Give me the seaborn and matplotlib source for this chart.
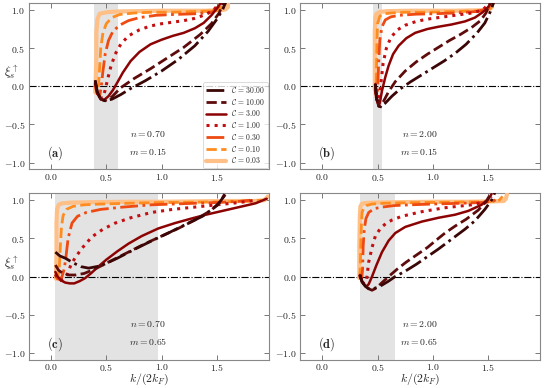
import numpy as np
import pandas as pd
import matplotlib
matplotlib.use("Agg")
import matplotlib.pyplot as plt
from matplotlib.ticker import FormatStrFormatter
import seaborn as sns

# coupling strengths (legend order) and styles
C_vals = [30.00, 10.00, 3.00, 1.00, 0.30, 0.10, 0.03]
colors = ['#3a0606', '#5e0b0b', '#8c0303', '#c40f12', '#ee4a12', '#ff8c1e', '#ffc088']
styles = ['-.', '--', '-', ':', '-.', '--', '-']
widths = [2.0, 2.0, 1.8, 2.2, 2.0, 2.0, 3.0]

# panel (a): n = 0.70, m = 0.15
a_x = [
    [0.40, 0.42, 0.45, 0.49, 0.55, 0.63, 0.72, 0.85, 1.0, 1.15, 1.3, 1.42, 1.5, 1.55, 1.58],
    [0.40, 0.42, 0.45, 0.49, 0.55, 0.63, 0.75, 0.9, 1.05, 1.2, 1.35, 1.45, 1.52, 1.56],
    [0.40, 0.42, 0.45, 0.48, 0.52, 0.56, 0.60, 0.65, 0.72, 0.8, 0.9, 1.0, 1.1, 1.2, 1.3, 1.38, 1.45, 1.5, 1.54],
    [0.40, 0.42, 0.44, 0.47, 0.49, 0.51, 0.54, 0.58, 0.63, 0.7, 0.8, 0.9, 1.0, 1.1, 1.2, 1.3, 1.4, 1.47, 1.52],
    [0.40, 0.42, 0.44, 0.455, 0.47, 0.49, 0.52, 0.56, 0.62, 0.7, 0.8, 0.95, 1.1, 1.3, 1.45, 1.52],
    [0.40, 0.42, 0.43, 0.44, 0.45, 0.47, 0.5, 0.55, 0.62, 0.75, 0.9, 1.1, 1.3, 1.5, 1.55],
    [0.40, 0.405, 0.41, 0.41, 0.42, 0.44, 0.5, 0.6, 0.8, 1.0, 1.2, 1.4, 1.55, 1.58, 1.6, 1.6],
]
a_y = [
    [0.08, -0.08, -0.17, -0.19, -0.17, -0.11, -0.03, 0.07, 0.2, 0.35, 0.53, 0.72, 0.88, 1.0, 1.1],
    [0.06, -0.09, -0.17, -0.19, -0.14, -0.02, 0.1, 0.23, 0.37, 0.51, 0.68, 0.82, 0.96, 1.1],
    [0.06, -0.09, -0.17, -0.18, -0.13, -0.05, 0.05, 0.18, 0.33, 0.45, 0.55, 0.61, 0.66, 0.7, 0.76, 0.83, 0.93, 1.02, 1.1],
    [0.04, -0.1, -0.16, -0.15, -0.05, 0.08, 0.25, 0.42, 0.55, 0.66, 0.74, 0.79, 0.82, 0.84, 0.86, 0.89, 0.94, 1.0, 1.08],
    [0.0, -0.1, -0.13, 0.0, 0.2, 0.42, 0.6, 0.72, 0.8, 0.86, 0.9, 0.93, 0.94, 0.95, 0.97, 1.05],
    [0.0, -0.1, 0.0, 0.25, 0.5, 0.7, 0.82, 0.9, 0.94, 0.96, 0.97, 0.97, 0.98, 0.99, 1.05],
    [-0.08, 0.1, 0.4, 0.7, 0.88, 0.95, 0.97, 0.98, 0.985, 0.99, 0.99, 0.99, 1.0, 1.01, 1.04, 1.1],
]

# panel (b): n = 2.00, m = 0.15
b_x = [
    [0.48, 0.49, 0.51, 0.53, 0.57, 0.63, 0.7, 0.8, 0.9, 1.0, 1.1, 1.2, 1.3, 1.4, 1.47, 1.52, 1.55],
    [0.48, 0.49, 0.51, 0.53, 0.56, 0.6, 0.66, 0.75, 0.85, 0.95, 1.05, 1.15, 1.25, 1.35, 1.43, 1.48, 1.52],
    [0.48, 0.49, 0.51, 0.52, 0.54, 0.57, 0.6, 0.64, 0.69, 0.76, 0.84, 0.95, 1.05, 1.17, 1.29, 1.38, 1.45, 1.5, 1.53],
    [0.48, 0.49, 0.505, 0.52, 0.535, 0.55, 0.58, 0.62, 0.68, 0.75, 0.85, 0.95, 1.05, 1.2, 1.35, 1.45, 1.52],
    [0.48, 0.49, 0.50, 0.51, 0.52, 0.54, 0.57, 0.62, 0.7, 0.85, 1.0, 1.2, 1.4, 1.5, 1.53],
    [0.48, 0.485, 0.49, 0.495, 0.5, 0.52, 0.56, 0.62, 0.75, 0.95, 1.2, 1.45, 1.52, 1.54],
    [0.475, 0.475, 0.475, 0.48, 0.49, 0.52, 0.6, 0.8, 1.0, 1.2, 1.4, 1.5, 1.53, 1.54],
]
b_y = [
    [0.03, -0.15, -0.26, -0.27, -0.22, -0.13, -0.04, 0.06, 0.15, 0.24, 0.33, 0.43, 0.55, 0.7, 0.83, 0.98, 1.1],
    [0.03, -0.15, -0.26, -0.26, -0.18, -0.07, 0.06, 0.2, 0.32, 0.42, 0.51, 0.6, 0.68, 0.77, 0.86, 0.96, 1.1],
    [0.03, -0.15, -0.25, -0.22, -0.06, 0.12, 0.27, 0.42, 0.53, 0.63, 0.7, 0.75, 0.78, 0.81, 0.85, 0.9, 0.97, 1.04, 1.1],
    [0.03, -0.15, -0.22, -0.1, 0.1, 0.3, 0.5, 0.64, 0.74, 0.8, 0.85, 0.88, 0.9, 0.93, 0.96, 1.0, 1.1],
    [0.0, -0.18, -0.05, 0.3, 0.6, 0.78, 0.87, 0.91, 0.93, 0.945, 0.95, 0.96, 0.98, 1.02, 1.1],
    [-0.05, -0.1, 0.2, 0.6, 0.82, 0.92, 0.95, 0.96, 0.97, 0.97, 0.98, 0.99, 1.02, 1.1],
    [-0.05, 0.3, 0.7, 0.9, 0.95, 0.975, 0.985, 0.99, 0.99, 0.99, 0.995, 1.0, 1.03, 1.1],
]

# panel (c): n = 0.70, m = 0.65
c_x = [
    [0.04, 0.08, 0.13, 0.2, 0.27, 0.34, 0.45, 0.6, 0.76, 0.9, 1.06, 1.2, 1.37, 1.5, 1.58],
    [0.04, 0.07, 0.11, 0.16, 0.22, 0.3, 0.4, 0.55, 0.7, 0.85, 1.0, 1.15, 1.3, 1.45, 1.53, 1.57],
    [0.04, 0.06, 0.09, 0.13, 0.17, 0.21, 0.26, 0.31, 0.36, 0.42, 0.5, 0.6, 0.7, 0.82, 0.97, 1.12, 1.27, 1.4, 1.55, 1.7, 1.85, 1.95],
    [0.04, 0.06, 0.09, 0.12, 0.15, 0.18, 0.22, 0.28, 0.37, 0.47, 0.58, 0.72, 0.91, 1.1, 1.3, 1.5, 1.7, 1.85],
    [0.04, 0.06, 0.08, 0.1, 0.12, 0.135, 0.155, 0.19, 0.24, 0.32, 0.45, 0.65, 0.91, 1.2, 1.5, 1.7, 1.8],
    [0.04, 0.06, 0.075, 0.085, 0.095, 0.11, 0.14, 0.2, 0.3, 0.45, 0.7, 1.0, 1.3, 1.6, 1.8, 1.9],
    [0.045, 0.05, 0.05, 0.055, 0.07, 0.1, 0.2, 0.4, 0.7, 1.0, 1.3, 1.6, 1.85, 1.93, 1.96],
]
c_y = [
    [0.32, 0.27, 0.24, 0.18, 0.13, 0.11, 0.14, 0.24, 0.36, 0.46, 0.57, 0.67, 0.79, 0.93, 1.08],
    [0.15, 0.08, 0.04, 0.02, 0.02, 0.04, 0.1, 0.21, 0.32, 0.43, 0.53, 0.63, 0.74, 0.87, 0.98, 1.08],
    [0.06, 0.0, -0.05, -0.08, -0.09, -0.09, -0.06, -0.02, 0.04, 0.12, 0.22, 0.33, 0.43, 0.53, 0.63, 0.7, 0.76, 0.81, 0.86, 0.91, 0.96, 1.02],
    [0.03, -0.03, -0.05, -0.03, 0.04, 0.15, 0.25, 0.37, 0.52, 0.62, 0.7, 0.77, 0.84, 0.88, 0.91, 0.94, 0.97, 1.0],
    [0.02, -0.03, -0.04, 0.0, 0.1, 0.25, 0.5, 0.7, 0.79, 0.84, 0.88, 0.91, 0.94, 0.955, 0.97, 0.985, 1.0],
    [0.0, -0.03, 0.1, 0.4, 0.65, 0.8, 0.88, 0.92, 0.94, 0.95, 0.96, 0.97, 0.975, 0.98, 0.99, 1.0],
    [-0.03, 0.3, 0.7, 0.88, 0.94, 0.96, 0.97, 0.975, 0.98, 0.98, 0.985, 0.99, 0.99, 1.0, 1.05],
]

# panel (d): n = 2.00, m = 0.65
d_x = [
    [0.34, 0.36, 0.39, 0.42, 0.46, 0.52, 0.6, 0.66, 0.75, 0.85, 0.95, 1.05, 1.17, 1.29, 1.38, 1.47, 1.53, 1.56],
    [0.34, 0.36, 0.39, 0.42, 0.45, 0.49, 0.54, 0.6, 0.68, 0.76, 0.84, 0.95, 1.05, 1.11, 1.2, 1.3, 1.41, 1.48, 1.52],
    [0.34, 0.36, 0.38, 0.40, 0.42, 0.45, 0.49, 0.54, 0.6, 0.66, 0.75, 0.9, 1.05, 1.2, 1.32, 1.44, 1.5, 1.53],
    [0.34, 0.36, 0.38, 0.40, 0.42, 0.45, 0.48, 0.53, 0.58, 0.63, 0.72, 0.9, 1.1, 1.35, 1.48, 1.53],
    [0.34, 0.355, 0.365, 0.37, 0.38, 0.395, 0.42, 0.47, 0.54, 0.65, 0.8, 1.0, 1.25, 1.45, 1.55, 1.6],
    [0.34, 0.345, 0.35, 0.355, 0.36, 0.375, 0.4, 0.45, 0.55, 0.7, 0.9, 1.2, 1.5, 1.6, 1.63],
    [0.335, 0.335, 0.34, 0.345, 0.36, 0.4, 0.5, 0.7, 1.0, 1.3, 1.55, 1.64, 1.66, 1.67],
]
d_y = [
    [0.02, -0.07, -0.13, -0.16, -0.16, -0.13, -0.06, 0.0, 0.07, 0.16, 0.26, 0.36, 0.49, 0.62, 0.73, 0.88, 1.0, 1.1],
    [0.02, -0.07, -0.13, -0.16, -0.18, -0.15, -0.08, 0.0, 0.1, 0.19, 0.27, 0.38, 0.5, 0.57, 0.66, 0.75, 0.87, 0.98, 1.08],
    [0.02, -0.06, -0.11, -0.13, -0.1, 0.0, 0.15, 0.32, 0.47, 0.57, 0.65, 0.72, 0.77, 0.81, 0.86, 0.94, 1.01, 1.08],
    [0.02, -0.06, -0.1, -0.05, 0.19, 0.38, 0.53, 0.64, 0.7, 0.74, 0.79, 0.85, 0.9, 0.94, 0.98, 1.05],
    [0.0, -0.05, 0.1, 0.4, 0.62, 0.76, 0.84, 0.89, 0.91, 0.93, 0.94, 0.95, 0.96, 0.97, 0.99, 1.04],
    [-0.02, 0.2, 0.5, 0.72, 0.84, 0.9, 0.93, 0.95, 0.96, 0.965, 0.97, 0.975, 0.98, 1.0, 1.05],
    [-0.02, 0.4, 0.8, 0.92, 0.955, 0.965, 0.97, 0.975, 0.98, 0.98, 0.985, 0.99, 1.02, 1.08],
]

panel_tags = ['a', 'b', 'c', 'd']
n_vals = [0.70, 2.00, 0.70, 2.00]
m_vals = [0.15, 0.15, 0.65, 0.65]
bands = [(0.39, 0.61), (0.46, 0.54), (0.036, 0.97), (0.34, 0.66)]
xs = [a_x, b_x, c_x, d_x]
ys = [a_y, b_y, c_y, d_y]

sns.set_style("ticks")
plt.rcParams['font.family'] = ['DejaVu Serif']
plt.rcParams['mathtext.fontset'] = 'cm'

fig, axes = plt.subplots(2, 2, figsize=(5.44, 3.88), dpi=100)
fig.subplots_adjust(left=0.053, right=0.993, top=0.992, bottom=0.073, wspace=0.13, hspace=0.144)

for i, ax in enumerate(axes.flat):
    ax.axvspan(*bands[i], color='#e3e3e3', lw=0, zorder=0)
    ax.axhline(0, color='black', lw=0.8, ls='-.', zorder=1)
    for j in range(len(C_vals)):
        df = pd.DataFrame({'k': xs[i][j], 'xi': ys[i][j]})
        sns.lineplot(data=df, x='k', y='xi', sort=False, estimator=None, ax=ax,
                     color=colors[j], linestyle=styles[j], lw=widths[j],
                     label=r'$\mathcal{C}\, =\, %.2f$' % C_vals[j] if i == 0 else None,
                     zorder=10 - j)
    ax.set_xlim(-0.2, 1.97)
    ax.set_ylim(-1.09, 1.09)
    ax.set_xticks([0.0, 0.5, 1.0, 1.5])
    ax.set_yticks([-1.0, -0.5, 0.0, 0.5, 1.0])
    ax.xaxis.set_major_formatter(FormatStrFormatter(r'$%.1f$'))
    ax.yaxis.set_major_formatter(FormatStrFormatter(r'$%.1f$'))
    ax.tick_params(direction='in', top=True, right=True, labelsize=7,
                   color='#777777', length=3.5, width=0.7, pad=2.5)
    ax.tick_params(axis='x', pad=2)
    for sp in ax.spines.values():
        sp.set_color('#888888')
        sp.set_linewidth(0.8)
    ax.set_xlabel(r'$k/(2k_F)$' if i >= 2 else '', fontsize=8.5, va='top')
    ax.set_ylabel(r'$\xi_s^\uparrow$' if i % 2 == 0 else '', fontsize=9,
                  rotation=0, ha='left', va='center')
    ax.xaxis.set_label_coords(0.5, -0.075)
    ax.yaxis.set_label_coords(-0.105, 0.585)
    ax.text(0.88, -0.62, r'$n = %.2f$' % n_vals[i], fontsize=7, ha='center', va='center')
    ax.text(0.88, -0.85, r'$m = %.2f$' % m_vals[i], fontsize=7, ha='center', va='center')
    ax.text(0.04, -0.88, r'$(\mathbf{%s})$' % panel_tags[i], fontsize=9, ha='center', va='center')

leg = axes[0, 0].legend(loc='lower right', fontsize=5.5, handlelength=2.6, labelspacing=0.22,
                        borderaxespad=0.15, frameon=True, fancybox=True, borderpad=0.4,
                        handletextpad=0.6)
leg.get_frame().set_edgecolor('#cccccc')
leg.get_frame().set_linewidth(0.6)

fig.savefig('out.png', dpi=100)
